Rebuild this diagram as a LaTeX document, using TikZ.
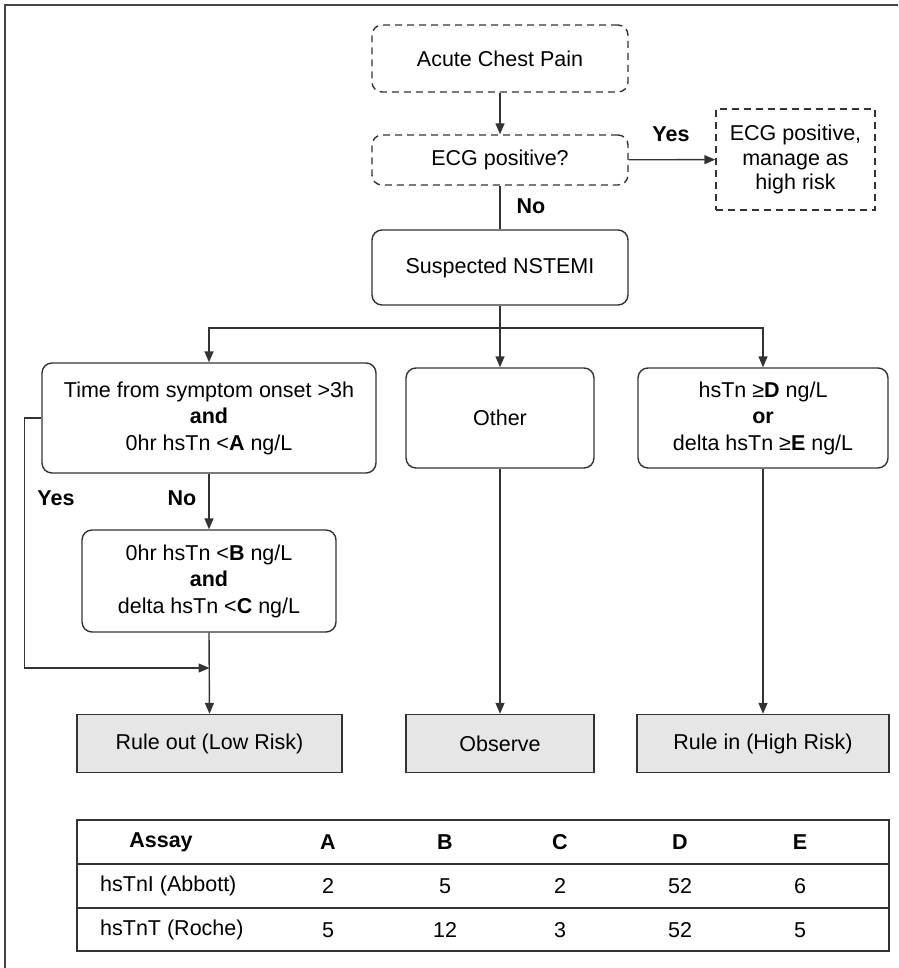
\documentclass[tikz,border=0pt]{standalone}
\usepackage{fontspec}
\setmainfont{Liberation Sans}
\usetikzlibrary{arrows.meta}
\definecolor{linec}{HTML}{333333}
\definecolor{framec}{HTML}{444444}
\definecolor{fillc}{HTML}{E6E6E6}
\begin{document}
\begin{tikzpicture}[x=1pt,y=-1pt,
  font=\fontsize{21.5}{26.5}\selectfont,
  >={Triangle[length=11pt,width=9pt]},
  conn/.style={draw=linec,line width=1.4pt},
  rbox/.style={draw=linec,line width=1.4pt,rounded corners=10pt,align=center,inner sep=0pt,fill=white},
  dbox/.style={rbox,dash pattern=on 7pt off 5pt},
  sbox/.style={draw=linec,line width=1.4pt,dash pattern=on 7pt off 5pt,align=center,inner sep=0pt},
  gbox/.style={draw=linec,line width=1.4pt,fill=fillc,align=center,inner sep=0pt},
  lab/.style={font=\fontsize{21.5}{26}\selectfont\bfseries,inner sep=0pt},
  cell/.style={inner sep=0pt,anchor=center},
  hcell/.style={cell,font=\fontsize{21.5}{26}\selectfont\bfseries}
]
\useasboundingbox (0,0) rectangle (898,968);
% frame
\draw[framec,line width=2pt] (5,968) -- (5,5) -- (898,5);

% nodes
\node[dbox,minimum width=256pt,minimum height=67pt] (acp) at (500,58.5) {Acute Chest Pain};
\node[dbox,minimum width=256pt,minimum height=50pt] (ecg) at (500,160) {ECG positive?};
\node[sbox,minimum width=159pt,minimum height=101pt,font=\fontsize{21.5}{24.5}\selectfont] (ecgpos) at (795.5,159.5) {ECG positive,\\manage as\\high risk};
\node[rbox,minimum width=256pt,minimum height=75pt] (nstemi) at (500,267.5) {Suspected NSTEMI};
\coordinate (split) at (500,328);
\node[rbox,minimum width=334pt,minimum height=110pt] (time) at (209,418) {Time from symptom onset >3h\\\textbf{and}\\0hr hsTn <\textbf{A} ng/L};
\node[rbox,minimum width=188pt,minimum height=100pt] (other) at (500,418) {Other};
\node[rbox,minimum width=250pt,minimum height=100pt] (hsd) at (763,418) {hsTn ≥\textbf{D} ng/L\\\textbf{or}\\delta hsTn ≥\textbf{E} ng/L};
\node[rbox,minimum width=254pt,minimum height=102pt] (zero) at (209,581) {0hr hsTn <\textbf{B} ng/L\\\textbf{and}\\delta hsTn <\textbf{C} ng/L};
\node[gbox,minimum width=265pt,minimum height=58pt] (ruleout) at (209.5,743.5) {Rule out (Low Risk)};
\node[gbox,minimum width=188pt,minimum height=58pt] (observe) at (500,743.5) {Observe};
\node[gbox,minimum width=252pt,minimum height=58pt] (rulein) at (763,743.5) {Rule in (High Risk)};

% connectors
\draw[conn,->] (acp) -- (ecg);
\draw[conn,->] (ecg) -- (ecgpos);
\node[lab] (yes1) at (671,134) {Yes};
\draw[conn] (ecg) -- (nstemi);
\node[lab] (no1) at (531,206) {No};
\draw[conn] (nstemi) -- (split);
\draw[conn,->] (split) -| (time.north);
\draw[conn,->] (split) -| (hsd.north);
\draw[conn,->] (split) -- (other.north);
\draw[conn,->] (time.south) -- (zero.north);
\node[lab] (no2) at (182,498) {No};
\draw[conn,->] (zero.south) -- (ruleout.north);
\coordinate (join) at (209.5,668);
\draw[conn,->] (time.west) -- ++(-17,0) |- (join);
\node[lab] (yes2) at (56,498) {Yes};
\draw[conn,->] (other) -- (observe);
\draw[conn,->] (hsd) -- (rulein);

% table
\draw[linec,line width=1.4pt] (77,820) rectangle (889,951);
\draw[linec,line width=1.4pt] (77,864) -- (889,864);
\draw[linec,line width=1.4pt] (77,908) -- (889,908);
\node[hcell] (hAssay) at (161,842) {Assay};
\node[hcell] (hA) at (328,842) {A};
\node[hcell] (hB) at (445,842) {B};
\node[hcell] (hC) at (560,842) {C};
\node[hcell] (hD) at (680,842) {D};
\node[hcell] (hE) at (800,842) {E};
\node[cell,anchor=west] (r1) at (100,886) {hsTnI (Abbott)};
\node[cell] (r1A) at (328,886) {2};
\node[cell] (r1B) at (445,886) {5};
\node[cell] (r1C) at (560,886) {2};
\node[cell] (r1D) at (680,886) {52};
\node[cell] (r1E) at (800,886) {6};
\node[cell,anchor=west] (r2) at (100,930) {hsTnT (Roche)};
\node[cell] (r2A) at (328,930) {5};
\node[cell] (r2B) at (445,930) {12};
\node[cell] (r2C) at (560,930) {3};
\node[cell] (r2D) at (680,930) {52};
\node[cell] (r2E) at (800,930) {5};
\end{tikzpicture}
\end{document}
